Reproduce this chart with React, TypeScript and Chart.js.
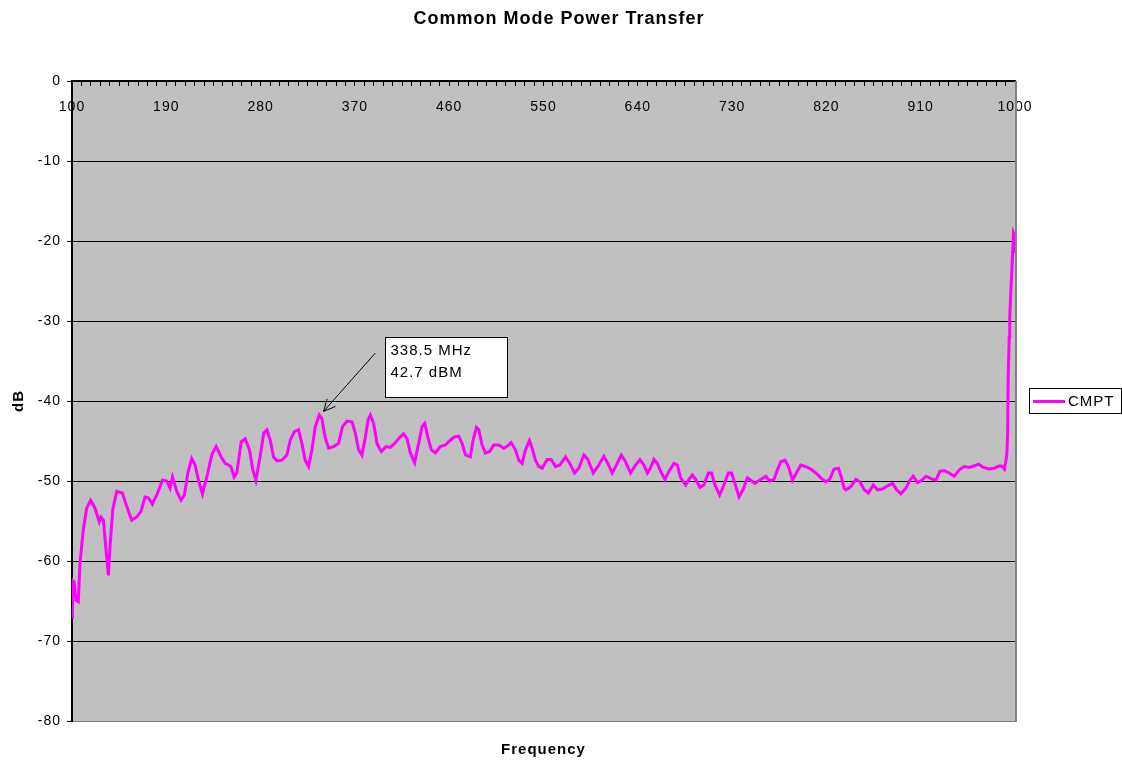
import { useEffect, useRef } from "react";
import { Chart, registerables } from "chart.js";

Chart.register(...registerables);

// Frequency sweep (MHz) and measured common-mode power transfer (dB)
const FREQ_MHZ = [
  100.0, 100.4, 102.0, 103.8, 106.0, 107.6, 110.8, 114.0, 117.8, 122.0,
  126.0, 127.7, 130.0, 132.2, 134.7, 136.3, 138.9, 142.7, 148.1, 152.3,
  157.0, 161.8, 165.9, 169.7, 172.9, 176.7, 180.9, 186.3, 190.5, 193.6,
  195.9, 200.0, 204.1, 207.3, 210.5, 214.3, 217.5, 220.7, 224.5, 228.7,
  233.5, 237.6, 242.4, 246.2, 249.4, 251.6, 254.8, 257.3, 261.5, 265.3,
  269.4, 272.6, 275.5, 279.6, 283.0, 286.0, 289.2, 292.4, 295.6, 300.3,
  305.1, 308.3, 312.4, 316.2, 319.4, 322.6, 325.8, 329.0, 332.2, 336.0,
  338.5, 341.7, 344.9, 349.6, 354.4, 358.2, 362.4, 367.2, 370.4, 373.5,
  376.7, 379.9, 382.5, 384.7, 387.9, 391.1, 395.2, 399.7, 403.8, 407.9,
  412.4, 416.5, 419.8, 422.9, 427.0, 430.9, 434.1, 436.6, 439.8, 443.0,
  446.8, 451.6, 456.4, 461.1, 465.0, 469.1, 472.3, 475.5, 480.2, 482.8,
  486.0, 488.2, 491.4, 494.6, 498.7, 502.5, 507.3, 512.1, 515.9, 519.1,
  523.2, 526.4, 529.6, 532.8, 536.6, 539.2, 542.3, 545.5, 548.7, 553.5,
  557.3, 561.5, 565.6, 571.0, 575.1, 579.6, 583.7, 588.5, 592.3, 597.5,
  602.8, 607.6, 611.4, 615.6, 620.4, 624.2, 628.3, 633.1, 637.9, 642.0,
  645.8, 649.1, 651.6, 655.4, 658.6, 661.8, 665.9, 669.7, 674.5, 677.7,
  680.9, 685.7, 688.8, 692.1, 695.2, 699.3, 703.1, 707.3, 710.5, 713.6,
  718.1, 722.2, 726.4, 729.6, 732.7, 736.6, 740.4, 744.6, 747.8, 751.9,
  757.3, 762.1, 765.9, 770.0, 773.3, 776.4, 780.5, 783.8, 787.6, 791.4,
  795.5, 800.3, 805.1, 809.9, 814.6, 819.4, 823.2, 827.3, 831.5, 834.5,
  836.9, 838.6, 843.4, 848.1, 852.0, 856.1, 860.2, 864.7, 868.8, 873.6,
  878.4, 883.2, 887.0, 891.1, 895.9, 899.7, 902.8, 907.0, 911.1, 915.0,
  919.7, 924.5, 928.3, 932.4, 937.2, 942.0, 946.8, 951.6, 956.4, 961.2,
  965.3, 969.8, 974.9, 980.3, 985.1, 988.3, 989.9, 991.4, 992.3, 993.0,
  993.5, 994.5, 995.0, 996.2, 997.5, 998.5, 999.4, 1000.0,
];

const CMPT_DB = [
  -67.0, -62.4, -62.6, -64.9, -65.1, -60.3, -56.1, -53.4, -52.4, -53.4,
  -55.1, -54.5, -54.9, -58.2, -61.8, -58.2, -53.6, -51.3, -51.5, -53.2,
  -54.9, -54.5, -53.8, -52.0, -52.1, -52.9, -51.75, -49.9, -50.0, -50.9,
  -49.5, -51.3, -52.4, -51.75, -49.0, -47.2, -48.0, -49.9, -51.6, -49.5,
  -46.7, -45.7, -47.0, -47.8, -48.0, -48.2, -49.5, -49.0, -45.1, -44.7,
  -46.1, -48.6, -49.9, -46.9, -44.0, -43.6, -44.9, -47.0, -47.5, -47.4,
  -46.75, -44.9, -43.8, -43.6, -45.3, -47.4, -48.2, -46.1, -43.2, -41.75,
  -42.2, -44.6, -45.9, -45.7, -45.3, -43.2, -42.5, -42.6, -44.0, -46.1,
  -46.75, -44.6, -42.4, -41.75, -42.8, -45.3, -46.3, -45.7, -45.8, -45.3,
  -44.6, -44.1, -44.7, -46.5, -47.7, -45.3, -43.2, -42.8, -44.6, -46.1,
  -46.5, -45.7, -45.5, -44.9, -44.5, -44.4, -45.3, -46.75, -47.0, -44.9,
  -43.3, -43.6, -45.5, -46.5, -46.3, -45.5, -45.5, -45.9, -45.6, -45.2,
  -46.1, -47.4, -47.8, -46.1, -44.95, -45.9, -47.4, -48.2, -48.4, -47.3,
  -47.3, -48.2, -48.0, -47.0, -47.8, -49.0, -48.4, -46.75, -47.3, -49.0,
  -48.0, -46.9, -47.8, -49.0, -47.8, -46.75, -47.6, -49.0, -48.0, -47.3,
  -48.0, -49.0, -48.5, -47.3, -47.8, -48.8, -49.8, -48.8, -47.8, -48.0,
  -49.6, -50.5, -49.8, -49.25, -49.8, -50.8, -50.5, -49.0, -49.0, -50.5,
  -51.75, -50.5, -49.0, -49.0, -50.3, -52.0, -51.1, -49.6, -49.9, -50.3,
  -49.8, -49.4, -50.0, -49.8, -48.6, -47.6, -47.4, -48.2, -49.9, -49.0,
  -48.0, -48.2, -48.5, -49.0, -49.6, -50.1, -49.8, -48.5, -48.4, -49.6,
  -50.9, -51.1, -50.7, -49.8, -50.1, -51.1, -51.5, -50.5, -51.1, -51.0,
  -50.6, -50.3, -51.1, -51.6, -50.9, -49.9, -49.4, -50.2, -49.9, -49.4,
  -49.7, -49.9, -48.8, -48.7, -49.0, -49.4, -48.6, -48.2, -48.3, -48.1,
  -47.9, -48.3, -48.5, -48.4, -48.1, -48.2, -48.5, -47.4, -46.5, -44.0,
  -37.0, -32.0, -29.5, -25.7, -22.4, -19.0, -19.3, -21.5,
];

const SERIES_NAME = "CMPT";
const X_TICK_LABELS = [100, 190, 280, 370, 460, 550, 640, 730, 820, 910, 1000];
const X_MINOR_STEP = 9;
const Y_TICKS = [0, -10, -20, -30, -40, -50, -60, -70, -80];
const TITLE = "Common Mode Power Transfer";
const X_TITLE = "Frequency";
const Y_TITLE = "dB";
const NOTE_LINES = ["338.5 MHz", "42.7 dBM"];

const FONT = '"Liberation Sans", Arial, Helvetica, sans-serif';
const MAGENTA = "#ff00ff";

const decorPlugin = {
  id: "decor",
  beforeDraw(chart: any) {
    const { ctx, chartArea: a } = chart;
    ctx.save();
    ctx.fillStyle = "#ffffff";
    ctx.fillRect(0, 0, chart.width, chart.height);
    ctx.fillStyle = "#c0c0c0";
    ctx.fillRect(a.left, a.top, a.right - a.left, a.bottom - a.top);
    ctx.restore();
    ctx.letterSpacing = "1px";
  },
  afterDraw(chart: any) {
    const { ctx, chartArea: a } = chart;
    const xs = chart.scales.x;
    const ys = chart.scales.y;
    ctx.save();
    ctx.letterSpacing = "1px";

    // right and bottom plot border (grey)
    ctx.strokeStyle = "#808080";
    ctx.lineWidth = 2;
    ctx.beginPath();
    ctx.moveTo(a.right + 1, a.top);
    ctx.lineTo(a.right + 1, a.bottom + 1);
    ctx.stroke();

    // title
    ctx.fillStyle = "#000";
    ctx.textAlign = "center";
    ctx.textBaseline = "middle";
    ctx.font = `bold 18px ${FONT}`;
    ctx.fillText(TITLE, 559, 19);

    // x axis title
    ctx.font = `bold 15px ${FONT}`;
    ctx.fillText(X_TITLE, (a.left + a.right) / 2, 750);

    // legend
    ctx.strokeStyle = "#000";
    ctx.lineWidth = 1;
    ctx.fillStyle = "#fff";
    ctx.fillRect(1029.5, 388.5, 92, 25);
    ctx.strokeRect(1029.5, 388.5, 92, 25);
    ctx.strokeStyle = MAGENTA;
    ctx.lineWidth = 3;
    ctx.beginPath();
    ctx.moveTo(1033, 401.5);
    ctx.lineTo(1065, 401.5);
    ctx.stroke();
    ctx.fillStyle = "#000";
    ctx.textAlign = "left";
    ctx.font = `15px ${FONT}`;
    ctx.fillText(SERIES_NAME, 1068, 401.5);

    // annotation box
    const bx0 = Math.round(xs.getPixelForValue(398.4)) + 0.5;
    const bx1 = Math.round(xs.getPixelForValue(515.4)) + 0.5;
    const by0 = Math.round(ys.getPixelForValue(-32.0)) + 0.5;
    const by1 = Math.round(ys.getPixelForValue(-39.5)) + 0.5;
    ctx.fillStyle = "#fff";
    ctx.fillRect(bx0, by0, bx1 - bx0, by1 - by0);
    ctx.strokeStyle = "#000";
    ctx.lineWidth = 1;
    ctx.strokeRect(bx0, by0, bx1 - bx0, by1 - by0);
    ctx.fillStyle = "#000";
    ctx.font = `15px ${FONT}`;
    ctx.fillText(NOTE_LINES[0], bx0 + 5, by0 + 13.5);
    ctx.fillText(NOTE_LINES[1], bx0 + 5, by0 + 35);

    // arrow
    const tx = xs.getPixelForValue(340.1);
    const ty = ys.getPixelForValue(-41.3);
    const sx = xs.getPixelForValue(389.5);
    const sy = ys.getPixelForValue(-34.0);
    ctx.strokeStyle = "#000";
    ctx.lineWidth = 1;
    ctx.beginPath();
    ctx.moveTo(sx, sy);
    ctx.lineTo(tx, ty);
    const ang = Math.atan2(sy - ty, sx - tx);
    const len = 13;
    for (const d of [-0.45, 0.45]) {
      ctx.moveTo(tx, ty);
      ctx.lineTo(tx + len * Math.cos(ang + d), ty + len * Math.sin(ang + d));
    }
    ctx.stroke();
    ctx.restore();
  },
};

export default function App() {
  const ref = useRef<HTMLCanvasElement | null>(null);

  useEffect(() => {
    if (!ref.current) return;
    const minorTicks: number[] = [];
    for (let v = X_TICK_LABELS[0]; v <= X_TICK_LABELS[X_TICK_LABELS.length - 1]; v += X_MINOR_STEP) {
      minorTicks.push(v);
    }
    const points = FREQ_MHZ.map((f, i) => ({ x: f, y: CMPT_DB[i] }));

    const chart = new Chart(ref.current, {
      type: "line",
      data: {
        datasets: [
          {
            label: SERIES_NAME,
            data: points,
            borderColor: MAGENTA,
            backgroundColor: MAGENTA,
            borderWidth: 3,
            pointRadius: 0,
            tension: 0,
            fill: false,
          },
        ],
      },
      options: {
        animation: false,
        responsive: false,
        devicePixelRatio: 1,
        layout: { padding: { top: 81, right: 107, bottom: 41, left: 0 } },
        plugins: {
          legend: { display: false },
          title: { display: false },
          tooltip: { enabled: false },
        },
        scales: {
          x: {
            type: "linear",
            position: { y: 0 } as any,
            min: X_TICK_LABELS[0],
            max: X_TICK_LABELS[X_TICK_LABELS.length - 1],
            afterBuildTicks: (s: any) => {
              s.ticks = minorTicks.map((v) => ({ value: v }));
            },
            ticks: {
              autoSkip: false,
              maxRotation: 0,
              minRotation: 0,
              padding: 14,
              color: "#000",
              font: { family: FONT, size: 14 },
              callback: (v: any) => (X_TICK_LABELS.includes(Number(v)) ? String(v) : ""),
            },
            grid: {
              drawOnChartArea: false,
              drawTicks: true,
              tickLength: 4,
              color: "#000",
              lineWidth: 1,
            },
            border: { display: true, color: "#000", width: 2 },
          },
          y: {
            type: "linear",
            position: "left",
            min: -80,
            max: 0,
            afterBuildTicks: (s: any) => {
              s.ticks = Y_TICKS.map((v) => ({ value: v }));
            },
            afterFit: (s: any) => {
              s.width = 72;
            },
            ticks: {
              padding: 6,
              color: "#000",
              font: { family: FONT, size: 14 },
            },
            grid: {
              color: (c: any) => (c.tick && c.tick.value === -80 ? "#808080" : "#000"),
              tickColor: "#000",
              tickLength: 5,
              lineWidth: 1,
            },
            border: { display: true, color: "#000", width: 2 },
            title: {
              display: true,
              text: Y_TITLE,
              color: "#000",
              font: { family: FONT, size: 15, weight: "bold" },
              padding: { top: 10, bottom: 0 },
            },
          },
        },
      },
      plugins: [decorPlugin],
    });
    return () => chart.destroy();
  }, []);

  return (
    <div style={{ position: "fixed", left: 0, top: 0, width: 1122, height: 762, background: "#fff" }}>
      <canvas ref={ref} width={1122} height={762} style={{ display: "block", width: 1122, height: 762 }} />
    </div>
  );
}
